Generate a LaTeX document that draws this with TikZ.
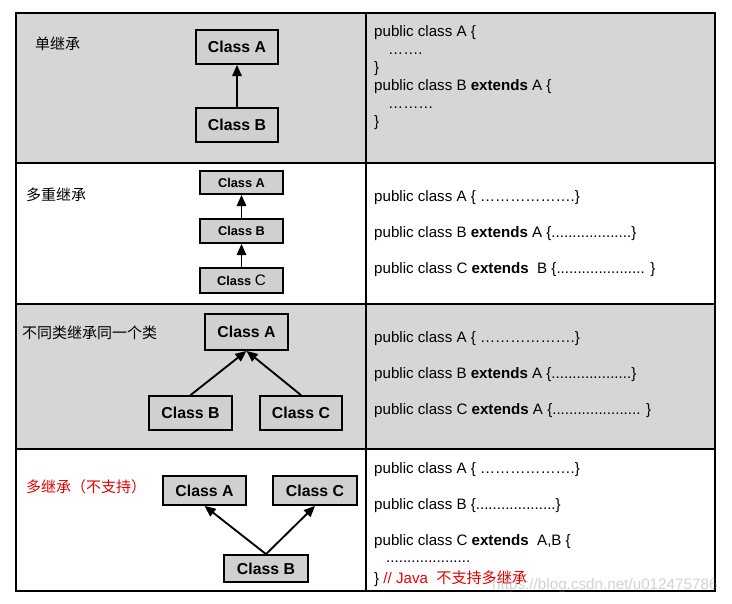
\documentclass[tikz,border=0pt]{standalone}
\usepackage{fontspec}
\setmainfont{Liberation Sans}
\newfontfamily\cjk{Noto Sans CJK SC}
\usetikzlibrary{arrows.meta}
\newdimen\pxu \pxu=0.03cm
\definecolor{rowgray}{RGB}{214,214,214}
\definecolor{boxgray}{RGB}{208,208,208}
\definecolor{jred}{RGB}{232,0,0}
\tikzset{
  classbox/.style={draw=black, line width=1.5pt, fill=boxgray, font=\bfseries\fontsize{13.5}{15}\selectfont, inner sep=0pt},
  smallbox/.style={classbox, font=\bfseries\fontsize{10.9}{12}\selectfont},
  inh/.style={line width=1.6pt, -{Triangle[length=9.5pt,width=8pt]}},
  code/.style={anchor=base west, inner sep=0pt, font=\fontsize{12.9}{15}\selectfont},
  zh/.style={anchor=base west, inner sep=0pt, font=\cjk\fontsize{12.8}{15}\selectfont},
  grid/.style={line width=1.6pt, draw=black}
}
\begin{document}
\begin{tikzpicture}[x=0.03cm, y=-0.03cm]
\useasboundingbox (0,0) rectangle (732,603);
\fill[white] (0,0) rectangle (732,603);
% row backgrounds
\fill[rowgray] (16,13) rectangle (715,163);
\fill[rowgray] (16,304) rectangle (715,449);
% grid
\draw[grid] (16,13) rectangle (715,591);
\draw[grid] (366,13) -- (366,591);
\draw[grid] (16,163) -- (715,163);
\draw[grid] (16,304) -- (715,304);
\draw[grid] (16,449) -- (715,449);

% ---- Row 1
\node[zh] (l1) at (35,49) {单继承};
\node[classbox, minimum width=82\pxu, minimum height=34\pxu] (r1a) at (237,47) {Class A};
\node[classbox, minimum width=82\pxu, minimum height=34\pxu] (r1b) at (237,125) {Class B};
\draw[inh] (r1b.north) -- (r1a.south);
\node[code] (c1a) at (374,36) {public class A \{};
\node[code] (c1b) at (388,54) {…….};
\node[code] (c1c) at (374,72) {\}};
\node[code] (c1d) at (374,90) {public class B \textbf{extends} A \{};
\node[code] (c1e) at (388,108) {………};
\node[code] (c1f) at (374,126) {\}};

% ---- Row 2
\node[zh] (l2) at (26,200) {多重继承};
\node[smallbox, minimum width=83\pxu, minimum height=23\pxu] (r2a) at (241.5,182.5) {Class A};
\node[smallbox, minimum width=83\pxu, minimum height=24\pxu] (r2b) at (241.5,231) {Class B};
\node[smallbox, minimum width=83\pxu, minimum height=25\pxu] (r2c) at (241.5,280.5) {Class {\mdseries\fontsize{13}{14}\selectfont C}};
\draw[inh] (r2b.north) -- (r2a.south);
\draw[inh] (r2c.north) -- (r2b.south);
\node[code] (c2a) at (374,201) {public class A \{ ……………….\}};
\node[code] (c2b) at (374,237) {public class B \textbf{extends} A \{...................\}};
\node[code] (c2c) at (374,273) {public class C \textbf{extends}\ \ B \{..................... \}};

% ---- Row 3
\node[zh] (l3) at (22,338) {不同类继承同一个类};
\node[classbox, minimum width=83\pxu, minimum height=36\pxu] (r3a) at (246.5,332) {Class A};
\node[classbox, minimum width=83\pxu, minimum height=34\pxu] (r3b) at (190.5,413) {Class B};
\node[classbox, minimum width=82\pxu, minimum height=34\pxu] (r3c) at (301,413) {Class C};
\draw[inh] (r3b.north) -- (r3a.south);
\draw[inh] (r3c.north) -- (r3a.south);
\node[code] (c3a) at (374,342) {public class A \{ ……………….\}};
\node[code] (c3b) at (374,378) {public class B \textbf{extends} A \{...................\}};
\node[code] (c3c) at (374,414) {public class C \textbf{extends} A \{..................... \}};

% ---- Row 4
\node[zh, text=jred] (l4) at (26,492) {多继承（不支持）};
\node[classbox, minimum width=83\pxu, minimum height=29\pxu] (r4a) at (204.5,490.5) {Class A};
\node[classbox, minimum width=84\pxu, minimum height=29\pxu] (r4c) at (315,490.5) {Class C};
\node[classbox, minimum width=84\pxu, minimum height=27\pxu] (r4b) at (266,568.5) {Class B};
\draw[inh] (r4b.north) -- (r4a.south);
\draw[inh] (r4b.north) -- (r4c.south);
\node[code] (c4a) at (374,473) {public class A \{ ……………….\}};
\node[code] (c4b) at (374,509) {public class B \{...................\}};
\node[code] (c4c) at (374,545) {public class C \textbf{extends}\ \ A,B \{};
\node[code] (c4d) at (386,562) {....................};
\node[code] (c4e) at (374,583) {\} \textcolor{jred}{// Java\ \ {\cjk 不支持多继承}}};

% watermark
\node[anchor=base west, inner sep=0pt, text=gray, opacity=0.35, font=\fontsize{13}{15}\selectfont] (wm) at (492,589) {https://blog.csdn.net/u012475786};
\end{tikzpicture}
\end{document}
